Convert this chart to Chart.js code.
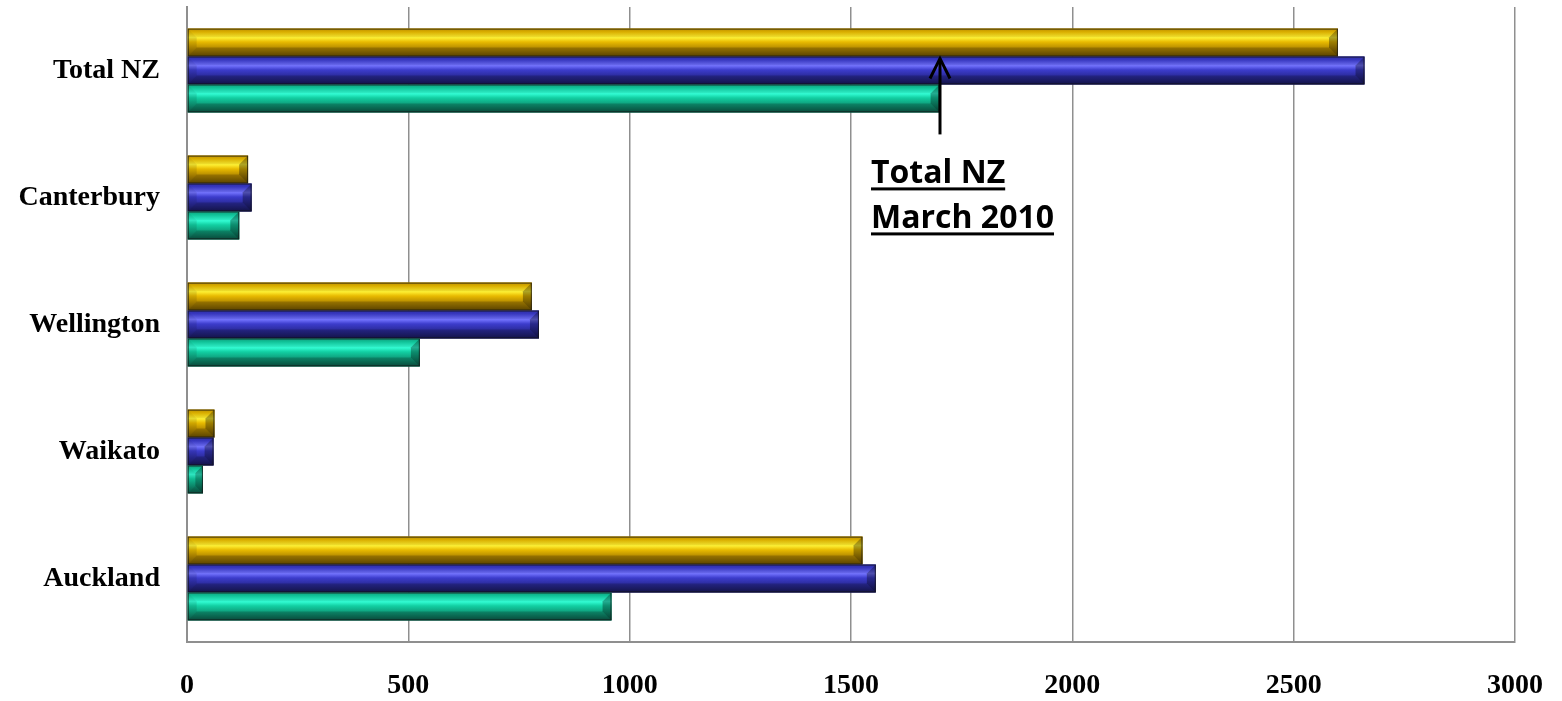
<!DOCTYPE html>
<html>
<head>
<meta charset="utf-8">
<script src="https://cdn.jsdelivr.net/npm/chart.js@4.4.1/dist/chart.umd.min.js"></script>
<style>
  html, body { margin: 0; padding: 0; background: #ffffff; }
  #wrap { width: 1562px; height: 701px; }
</style>
</head>
<body>
<div id="wrap"><canvas id="c" width="1562" height="701"></canvas></div>
<script>
// ---- data ----
const categories = ['Total NZ', 'Canterbury', 'Wellington', 'Waikato', 'Auckland'];
const seriesYellow = [2600, 138, 779, 62, 1526];
const seriesBlue   = [2660, 146, 795, 60, 1556];
const seriesGreen  = [1700, 118, 526, 36, 959];
const xTickMin = 0, xTickMax = 3000, xTickStep = 500;
const annotationLines = ['Total NZ', 'March 2010'];
const annotationValue = 1700;   // points at Total NZ (green bar end)
const annotationCategory = 'Total NZ';

// ---- styles ----
const palettes = [
  { base: '#E6B400', top: '#C89800', light: '#FFF235', mid: '#E8BA00', low: '#B08600', dark: '#6E5200' },
  { base: '#3A3AC8', top: '#3030B0', light: '#7474FF', mid: '#3C3CCC', low: '#2A2A98', dark: '#181858' },
  { base: '#14C89A', top: '#10A884', light: '#34FFD6', mid: '#12CFA2', low: '#0E9A78', dark: '#0C5A48' }
];

const bevelPlugin = {
  id: 'bevel',
  afterDatasetsDraw(chart) {
    const ctx = chart.ctx;
    chart.data.datasets.forEach((ds, di) => {
      const meta = chart.getDatasetMeta(di);
      const p = palettes[di];
      meta.data.forEach(bar => {
        const { x, y, base, height } = bar.getProps(['x', 'y', 'base', 'height'], true);
        const left = Math.min(base, x), right = Math.max(base, x);
        const top = y - height / 2, bottom = y + height / 2;
        const w = right - left, h = bottom - top;
        if (w <= 0) return;
        ctx.save();
        const g = ctx.createLinearGradient(0, top, 0, bottom);
        g.addColorStop(0, p.top);
        g.addColorStop(0.12, p.mid);
        g.addColorStop(0.32, p.light);
        g.addColorStop(0.48, p.mid);
        g.addColorStop(0.72, p.low);
        g.addColorStop(1, p.dark);
        ctx.fillStyle = g;
        ctx.fillRect(left, top, w, h);
        const b = Math.min(h * 0.32, w / 2);
        // left facet
        ctx.beginPath();
        ctx.moveTo(left, top); ctx.lineTo(left + b, top + b);
        ctx.lineTo(left + b, bottom - b); ctx.lineTo(left, bottom); ctx.closePath();
        ctx.fillStyle = 'rgba(0,0,0,0.10)';
        ctx.fill();
        // right facet
        ctx.beginPath();
        ctx.moveTo(right, top); ctx.lineTo(right - b, top + b);
        ctx.lineTo(right - b, bottom - b); ctx.lineTo(right, bottom); ctx.closePath();
        ctx.fillStyle = 'rgba(0,0,0,0.32)';
        ctx.fill();
        // top facet
        ctx.beginPath();
        ctx.moveTo(left, top); ctx.lineTo(right, top);
        ctx.lineTo(right - b, top + b); ctx.lineTo(left + b, top + b); ctx.closePath();
        ctx.fillStyle = 'rgba(0,0,0,0.06)';
        ctx.fill();
        // bottom facet
        ctx.beginPath();
        ctx.moveTo(left, bottom); ctx.lineTo(right, bottom);
        ctx.lineTo(right - b, bottom - b); ctx.lineTo(left + b, bottom - b); ctx.closePath();
        ctx.fillStyle = 'rgba(0,0,0,0.18)';
        ctx.fill();
        ctx.strokeStyle = 'rgba(20,20,20,0.75)';
        ctx.lineWidth = 1;
        ctx.strokeRect(left + 0.5, top + 0.5, w - 1, h - 1);
        ctx.restore();
      });
    });
  }
};

const annotationPlugin = {
  id: 'arrowNote',
  afterDraw(chart) {
    const ctx = chart.ctx;
    const xs = chart.scales.x;
    const idx = categories.indexOf(annotationCategory);
    const blue = chart.getDatasetMeta(1).data[idx];
    const green = chart.getDatasetMeta(2).data[idx];
    const ax = Math.round(xs.getPixelForValue(annotationValue));
    const tipY = blue.y - blue.height / 2;
    const tailY = green.y + green.height / 2 + 22;
    ctx.save();
    ctx.strokeStyle = '#000';
    ctx.lineWidth = 3;
    ctx.lineCap = 'butt';
    ctx.beginPath();
    ctx.moveTo(ax, tailY); ctx.lineTo(ax, tipY + 2);
    ctx.stroke();
    ctx.lineJoin = 'miter';
    ctx.beginPath();
    ctx.moveTo(ax - 10, tipY + 22); ctx.lineTo(ax, tipY + 2); ctx.lineTo(ax + 10, tipY + 22);
    ctx.stroke();
    // text
    ctx.fillStyle = '#000';
    ctx.font = 'bold 32px "Open Sans", "Liberation Sans", sans-serif';
    ctx.textBaseline = 'alphabetic';
    ctx.textAlign = 'left';
    const tx = ax - 69;
    let by = tailY + 49;
    annotationLines.forEach(line => {
      ctx.fillText(line, tx, by);
      const tw = ctx.measureText(line).width;
      ctx.fillRect(tx, by + 4, tw, 3);
      by += 45;
    });
    ctx.restore();
  }
};

const serifBold = { family: '"Liberation Serif", "Times New Roman", serif', size: 28, weight: 'bold' };

new Chart(document.getElementById('c'), {
  type: 'bar',
  data: {
    labels: categories,
    datasets: [
      { label: 'Series 1', data: seriesYellow, backgroundColor: palettes[0].base },
      { label: 'Series 2', data: seriesBlue, backgroundColor: palettes[1].base },
      { label: 'Series 3', data: seriesGreen, backgroundColor: palettes[2].base }
    ]
  },
  options: {
    indexAxis: 'y',
    responsive: false,
    animation: false,
    devicePixelRatio: 1,
    layout: { padding: { left: 0, right: 47, top: 7, bottom: 0 } },
    datasets: { bar: { categoryPercentage: 0.66, barPercentage: 1.0 } },
    plugins: { legend: { display: false }, tooltip: { enabled: false } },
    scales: {
      x: {
        min: xTickMin, max: xTickMax,
        ticks: { stepSize: xTickStep, color: '#000', font: serifBold, padding: 27,
                 callback: v => String(v) },
        grid: { color: '#8f8f8f', lineWidth: 1.5, drawTicks: false },
        border: { display: true, color: '#8f8f8f', width: 2 },
        afterFit(s) { s.height = 59; s.paddingLeft = 0; s.paddingRight = 0; }
      },
      y: {
        ticks: { color: '#000', font: serifBold, padding: 27 },
        grid: { display: false, drawTicks: false },
        border: { display: true, color: '#8f8f8f', width: 2 },
        afterFit(s) { s.width = 187; s.paddingTop = 0; s.paddingBottom = 0; }
      }
    }
  },
  plugins: [bevelPlugin, annotationPlugin]
});
</script>
</body>
</html>
